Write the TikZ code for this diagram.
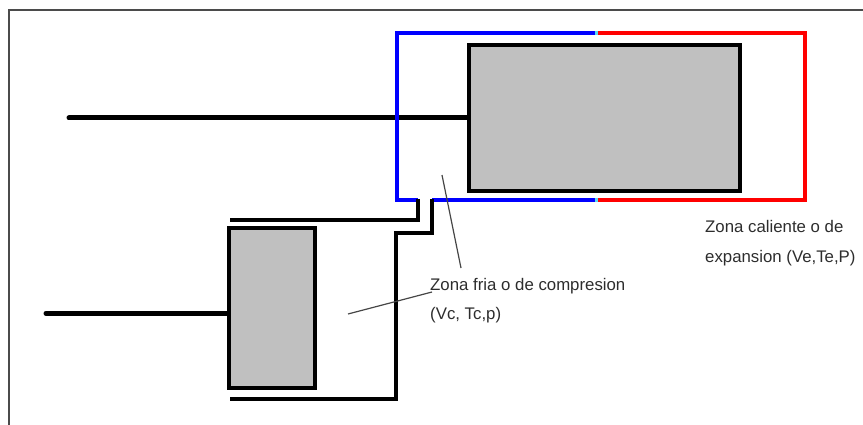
\documentclass[tikz,border=0pt]{standalone}
\usepackage{fontspec}
\setmainfont{Liberation Sans}
\usetikzlibrary{positioning}

\definecolor{pistongray}{RGB}{192,192,192}
\definecolor{framegray}{RGB}{75,75,75}
\definecolor{leadergray}{RGB}{70,70,70}
\definecolor{labelgray}{RGB}{45,45,45}
\definecolor{seamcyan}{RGB}{90,220,240}

\tikzset{
    piston/.style={draw=black,line width=4pt,fill=pistongray,inner sep=0pt,minimum width=#1},
    wall/.style={line width=4pt,black,miter limit=10},
    cold/.style={line width=4pt,blue},
    hot/.style={line width=4pt,red},
    seam/.style={line width=4pt,seamcyan},
    leader/.style={line width=1.2pt,leadergray},
    zonelabel/.style={font=\fontsize{16.8}{29.5}\selectfont,text=labelgray,align=left,inner sep=0pt,anchor=north west}
}

\begin{document}
\begin{tikzpicture}[x=1pt,y=-1pt]

    \useasboundingbox (0,0) rectangle (863,425);

    % outer frame
    \draw[line width=1.5pt,framegray] (9,425) -- (9,10) -- (863,10);

    % pistons
    \node[piston=271pt,minimum height=146pt] (hotpiston) at (604.4,118.2) {};
    \node[piston=86pt,minimum height=160pt] (coldpiston) at (272,308) {};

    % rods
    \coordinate (hotrod) at (69,118);
    \coordinate (coldrod) at (46,313.3);
    \draw[line width=5pt,line cap=round,black] (hotrod) -- (hotrod -| hotpiston.west);
    \draw[line width=5pt,line cap=round,black] (coldrod) -- (coldrod -| coldpiston.west);

    % cylinder walls
    \draw[cold] (596,33) -- (397,33) -- (397,200) -- (418,200);
    \draw[cold] (432,200) -- (596,200);
    \draw[hot] (596,33) -- (805,33) -- (805,200) -- (596,200);
    \draw[seam] (594.5,33) -- (597.5,33);
    \draw[seam] (594.5,200) -- (597.5,200);
    \draw[wall] (418,199) -- (418,220.5) -- (230,220.5);
    \draw[wall] (432,199) -- (432,233) -- (395.5,233) -- (395.5,399) -- (230,399);

    % labels
    \node[zonelabel] (coldzone) at (430,278) {Zona fria o de compresion\\(Vc, Tc,p)};
    \node[zonelabel] (hotzone) at (705,220.5) {Zona caliente o de\\expansion (Ve,Te,P)};

    % leader lines
    \coordinate (leadtop) at (442,175);
    \coordinate (leadleft) at (348,314);
    \draw[leader] (leadtop) -- (461,268);
    \draw[leader] (leadleft) -- (432,292);

\end{tikzpicture}
\end{document}
